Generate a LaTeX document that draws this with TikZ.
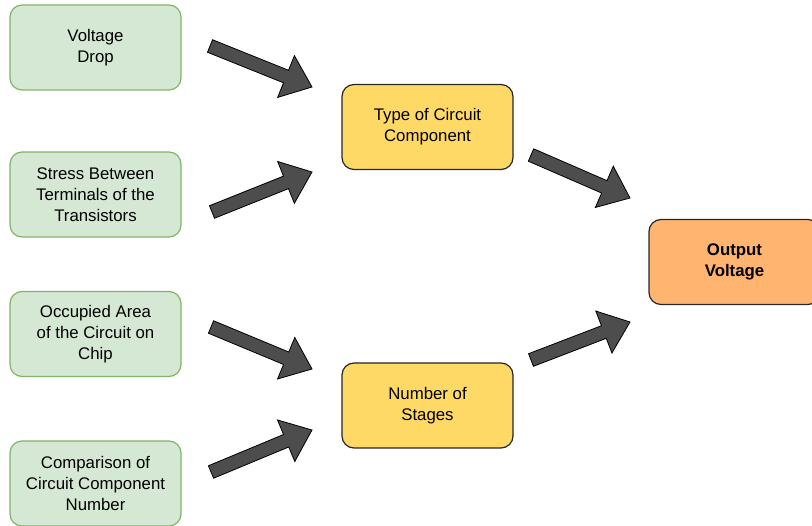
\documentclass[tikz,border=0pt]{standalone}
\usepackage{fontspec}
\setmainfont{Liberation Sans}
\usepackage{tikz}
\usetikzlibrary{calc}

\definecolor{causefill}{HTML}{D5E8D4}
\definecolor{causeline}{HTML}{82B366}
\definecolor{midfill}{HTML}{FFD966}
\definecolor{outfill}{HTML}{FFB570}
\definecolor{arrfill}{HTML}{4D4D4D}

\tikzset{
  box/.style={rectangle,rounded corners=12pt,minimum width=171pt,minimum height=85pt,
    align=center,line width=1.2pt,font=\fontsize{16.8}{20.8}\selectfont},
  cause/.style={box,draw=causeline,fill=causefill},
  factor/.style={box,draw=black!85,fill=midfill},
  result/.style={box,draw=black!85,fill=outfill,font=\fontsize{16.8}{20.8}\selectfont\bfseries},
  fatarr/.style={draw=black,fill=arrfill,line width=0.8pt,line join=miter}
}

\newcommand{\fatarrow}[2]{%
  \draw[fatarr] ($(#1)!6.75pt!90:(#2)$) -- ($($(#2)!28pt!(#1)$)!6.75pt!-90:(#1)$)
    -- ($($(#2)!28pt!(#1)$)!22.5pt!-90:(#1)$) -- (#2)
    -- ($($(#2)!28pt!(#1)$)!22.5pt!90:(#1)$) -- ($($(#2)!28pt!(#1)$)!6.75pt!90:(#1)$)
    -- ($(#1)!6.75pt!-90:(#2)$) -- cycle;}

\begin{document}
\begin{tikzpicture}[x=1pt,y=-1pt]
                 \useasboundingbox (0,0) rectangle (812,526);
                 \node[cause](drop)at(95.5,47.5){Voltage\\Drop};
                 \node[cause](stress)at(95.5,194.5){Stress Between\\Terminals of the\\Transistors};
                 \node[cause](area)at(95.5,334){Occupied Area\\of the Circuit on\\Chip};
                 \node[cause](count)at(95.5,483.5){Comparison of\\Circuit Component\\Number};
                 \node[factor](type)at(427.5,127){Type of Circuit\\Component};
                 \node[factor](stages)at(427.5,405.5){Number of\\Stages};
                 \node[result](out)at(734.5,262){Output\\Voltage};
                 \coordinate(t1)at(210,46);  \coordinate(h1)at(312,87);
                 \coordinate(t2)at(212,212); \coordinate(h2)at(312,172);
                 \coordinate(t3)at(531,155); \coordinate(h3)at(630,198);
                 \coordinate(t4)at(531,360); \coordinate(h4)at(630,322);
                 \coordinate(t5)at(211,327); \coordinate(h5)at(312,369);
                 \coordinate(t6)at(211,472); \coordinate(h6)at(312,430);
                 \foreach \i in {1,...,6}{\fatarrow{t\i}{h\i}}
\end{tikzpicture}
\end{document}
